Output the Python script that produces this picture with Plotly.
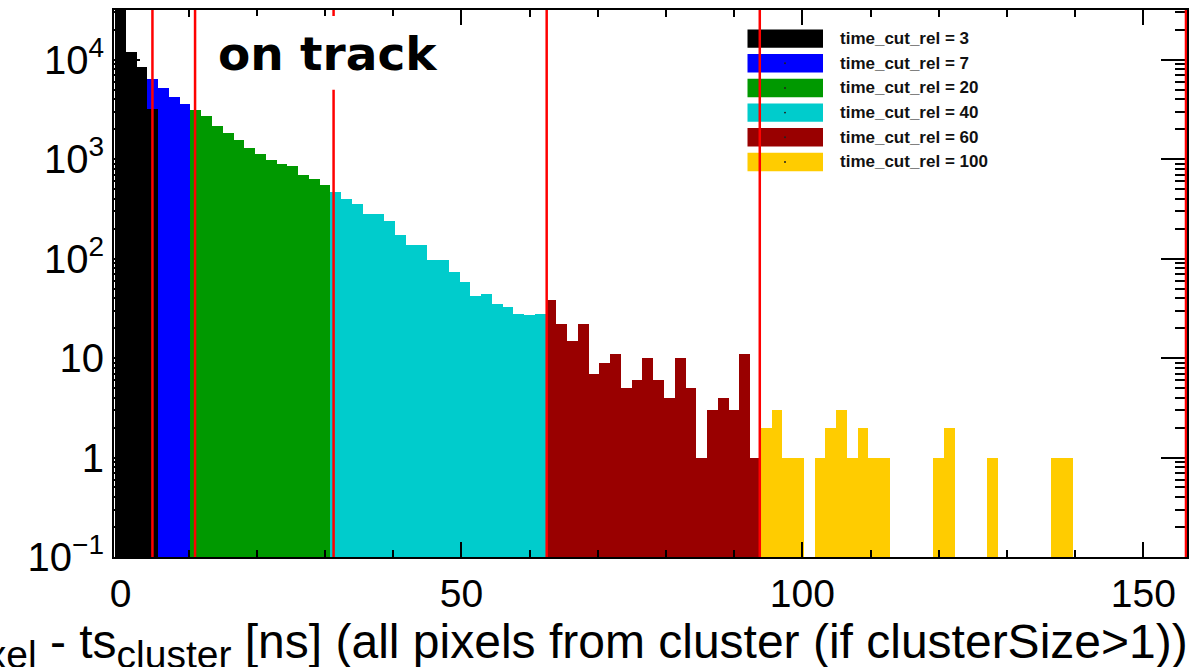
import plotly.graph_objects as go

# Binning of the time-difference histogram (ns)
BIN_WIDTH = 1.578125
X_START = -0.78125
TOA_UNIT = 1.5625  # ns per ToA count, used to place the cut markers

cuts = [3, 7, 20, 40, 60, 100]
colors = ["#000000", "#0000ff", "#009900", "#00cccc", "#990000", "#ffcc00"]
first_bin = [0, 3, 7, 20, 40, 60]

counts_cut3 = [38000, 11860, 8400, 3210]
counts_cut7 = [6330, 5180, 4210, 3610]
counts_cut20 = [3100, 2700, 2140, 1840, 1570, 1310, 1140, 980, 885, 853, 694, 627, 551]
counts_cut40 = [465, 395, 356, 282, 278, 237, 171, 138, 138, 96, 96, 74, 58, 42, 44,
                35, 33, 28, 27, 28]
counts_cut60 = [38, 22, 15, 22, 7, 9, 11, 5, 6, 10, 6, 4, 10, 5, 1, 3, 4, 3, 11, 1]
counts_cut100 = [2, 3, 1, 1, 0, 1, 2, 3, 1, 2, 1, 1, 0, 0, 0, 0, 1, 2, 0, 0, 0, 1,
                 0, 0, 0, 0, 0, 1, 1]

series = [counts_cut3, counts_cut7, counts_cut20, counts_cut40, counts_cut60, counts_cut100]

y_tickvals = [0.1, 1, 10, 100, 1000, 10000]
y_ticktext = ["10<sup>\u22121</sup>", "1", "10", "10<sup>2</sup>", "10<sup>3</sup>", "10<sup>4</sup>"]
x_tickvals = [0, 50, 100, 150]

# figure geometry (pixels)
W, H = 1199, 667
ML, MR, MT, MB = 114, 12, 8, 110
PW, PH = W - ML - MR, H - MT - MB


def px_x(p):
    return (p - ML) / PW


def px_y(p):
    return (H - MB - p) / PH


fig = go.Figure()

# widest cut first, so narrower cuts are painted on top
for idx in reversed(range(len(cuts))):
    vals = series[idx]
    xs = [X_START + (first_bin[idx] + i + 0.5) * BIN_WIDTH for i in range(len(vals))]
    ys = [v if v > 0 else None for v in vals]
    fig.add_trace(go.Bar(
        x=xs, y=ys, width=BIN_WIDTH,
        marker=dict(color=colors[idx], line=dict(width=0)),
        name=f"time_cut_rel = {cuts[idx]}",
        hoverinfo="skip",
    ))

shapes = []
annotations = []

# legend block
row_top, row_pitch, row_h = 27.5, 24.75, 18.5
for i, c in enumerate(cuts):
    top = row_top + i * row_pitch
    shapes.append(dict(type="rect", xref="paper", yref="paper",
                       x0=px_x(747.5), x1=px_x(823), y0=px_y(top + row_h), y1=px_y(top),
                       fillcolor=colors[i], line=dict(width=0), layer="above"))
    if i > 0:
        shapes.append(dict(type="circle", xref="paper", yref="paper",
                           x0=px_x(784), x1=px_x(786), y0=px_y(top + row_h / 2 + 1),
                           y1=px_y(top + row_h / 2 - 1),
                           fillcolor="#222222", line=dict(width=0), layer="above"))
    annotations.append(dict(xref="paper", yref="paper", x=px_x(838), y=px_y(top + row_h / 2),
                            xanchor="left", yanchor="middle", showarrow=False,
                            text=f"time_cut_rel = {c}",
                            font=dict(family="Liberation Sans, Arial, sans-serif", size=17,
                                      color="#111111", weight="bold")))

# vertical markers at each cut value
for c in cuts:
    shapes.append(dict(type="line", xref="x", yref="paper", x0=c * TOA_UNIT, x1=c * TOA_UNIT,
                       y0=0, y1=1, line=dict(color="#ff0000", width=2.5), layer="above"))

# white background behind the label
shapes.append(dict(type="rect", xref="paper", yref="paper",
                   x0=px_x(205), x1=px_x(455), y0=px_y(88), y1=px_y(14),
                   fillcolor="white", line=dict(width=0), layer="above"))

annotations.append(dict(xref="paper", yref="paper", x=px_x(327.5), y=px_y(52),
                        xanchor="center", yanchor="middle", showarrow=False,
                        text="on track",
                        font=dict(family="DejaVu Sans", size=47, color="black", weight="bold")))

# x-axis title, right aligned
sub_style = "font-size:39px"
x_title = (f"ts<sub><span style=\"{sub_style}\">pixel</span></sub> - "
           f"ts<sub><span style=\"{sub_style}\">cluster</span></sub> "
           "[ns] (all pixels from cluster (if clusterSize>1))")
annotations.append(dict(xref="paper", yref="paper", x=px_x(1190), y=px_y(613),
                        xanchor="right", yanchor="top", showarrow=False,
                        text=x_title,
                        font=dict(family="Liberation Sans, Arial, sans-serif", size=48, color="black")))

y_minor = [m * 10 ** e for e in range(-1, 5) for m in range(2, 10)]

fig.update_layout(
    width=W, height=H,
    margin=dict(l=ML, r=MR, t=MT, b=MB, pad=0),
    paper_bgcolor="white", plot_bgcolor="white",
    barmode="overlay", bargap=0, showlegend=False,
    font=dict(family="Liberation Sans, Arial, sans-serif", color="black"),
    shapes=shapes, annotations=annotations,
    xaxis=dict(
        range=[-0.95, 156.4], tickvals=x_tickvals, ticks="inside", ticklen=15, tickwidth=2,
        tickcolor="black", showline=True, linewidth=2, linecolor="black", mirror="ticks",
        showgrid=False, zeroline=False, tickfont=dict(size=39), ticklabelstandoff=1,
        minor=dict(dtick=10, tick0=0, ticks="inside", ticklen=7, tickwidth=2,
                   tickcolor="black", showgrid=False),
    ),
    yaxis=dict(
        type="log", range=[-1, 4.5], tickvals=y_tickvals, ticktext=y_ticktext,
        ticks="inside", ticklen=26, tickwidth=2, tickcolor="black",
        showline=True, linewidth=2, linecolor="black", mirror="ticks",
        showgrid=False, zeroline=False, tickfont=dict(size=40),
        minor=dict(tickvals=y_minor, ticks="inside", ticklen=12, tickwidth=2,
                   tickcolor="black", showgrid=False),
    ),
)

fig.write_html("out.html")
